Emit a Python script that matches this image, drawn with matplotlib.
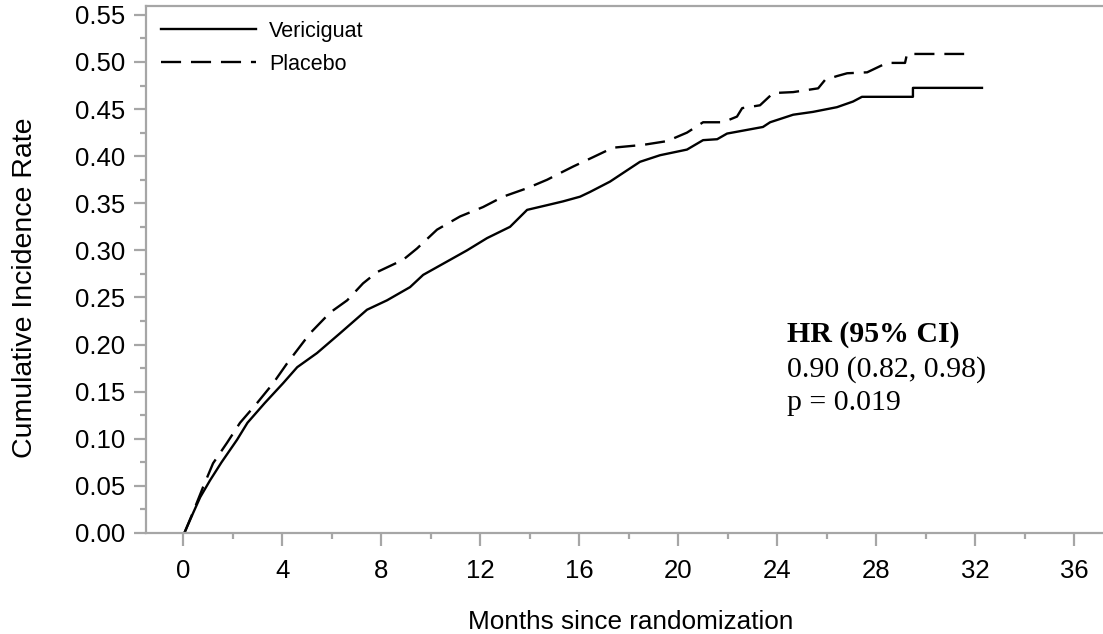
#!/usr/bin/env python3
"""Cumulative incidence curves, vericiguat vs placebo."""

import matplotlib

matplotlib.use("Agg")
import matplotlib.pyplot as plt
from matplotlib.ticker import MultipleLocator

plt.rcParams["font.family"] = ["Liberation Sans", "DejaVu Sans"]

# Curve vertices (months, cumulative incidence)
VERI_MONTHS = [0.05, 0.40, 0.69, 1.09, 1.55, 2.18, 2.60, 3.30, 4.04, 4.61, 5.41,
               6.34, 7.43, 8.24, 9.17, 9.70, 10.79, 11.47, 12.28, 13.21, 13.90,
               14.71, 15.35, 16.04, 16.44, 17.25, 17.94, 18.46, 19.27, 20.36,
               21.01, 21.58, 21.98, 23.43, 23.72, 24.65, 25.45, 26.42, 27.07,
               27.43, 29.49, 29.49, 32.28]
VERI_RATE = [0.0, 0.021, 0.038, 0.056, 0.075, 0.099, 0.117, 0.138, 0.159, 0.176,
             0.191, 0.212, 0.237, 0.247, 0.261, 0.274, 0.290, 0.300, 0.313,
             0.325, 0.343, 0.348, 0.352, 0.357, 0.362, 0.373, 0.385, 0.394,
             0.401, 0.407, 0.417, 0.418, 0.424, 0.431, 0.436, 0.444, 0.447,
             0.452, 0.458, 0.463, 0.463, 0.4725, 0.4725]

PLAC_MONTHS = [0.05, 0.40, 0.81, 1.21, 1.78, 2.30, 2.99, 3.64, 4.20, 5.13, 5.94,
               6.63, 7.27, 7.84, 8.89, 9.45, 10.26, 11.19, 12.12, 12.93, 13.90,
               14.71, 15.23, 15.76, 16.57, 17.37, 18.59, 19.56, 20.36, 21.01,
               21.82, 22.38, 22.59, 23.31, 23.84, 24.65, 25.66, 25.94, 26.42,
               26.83, 27.64, 28.04, 28.44, 29.17, 29.25, 31.56]
PLAC_RATE = [0.0, 0.022, 0.049, 0.074, 0.096, 0.117, 0.138, 0.159, 0.180, 0.212,
             0.234, 0.247, 0.265, 0.277, 0.290, 0.302, 0.322, 0.336, 0.346,
             0.357, 0.366, 0.375, 0.382, 0.389, 0.399, 0.409, 0.412, 0.416,
             0.425, 0.436, 0.436, 0.442, 0.451, 0.454, 0.467, 0.468, 0.472,
             0.481, 0.485, 0.488, 0.489, 0.494, 0.499, 0.499, 0.5085, 0.5085]

HR_LINES = ["HR (95% CI)", "0.90 (0.82, 0.98)", "p = 0.019"]

AXIS_GREY = "#a6a6a6"


def main() -> None:
    fig = plt.figure(figsize=(11.03, 6.34), dpi=100)
    ax = fig.add_axes([146 / 1103, 1 - 533 / 634, 957 / 1103, 527 / 634])

    ax.plot(VERI_MONTHS, VERI_RATE, color="black", lw=1.7, label="Vericiguat")
    ax.plot(PLAC_MONTHS, PLAC_RATE, color="black", lw=1.7, ls=(0, (8.5, 4.2)),
            label="Placebo")

    ax.set_xlim(-1.5, 37.17)
    ax.set_ylim(0, 0.5594)
    ax.xaxis.set_major_locator(MultipleLocator(4))
    ax.xaxis.set_minor_locator(MultipleLocator(2))
    ax.yaxis.set_major_locator(MultipleLocator(0.05))
    ax.yaxis.set_minor_locator(MultipleLocator(0.025))
    ax.yaxis.set_major_formatter(lambda v, _: f"{v:.2f}")

    for side in ("left", "bottom", "top"):
        ax.spines[side].set_color(AXIS_GREY)
        ax.spines[side].set_linewidth(1.6)
    ax.spines["right"].set_visible(False)
    ax.tick_params(which="both", color=AXIS_GREY, width=1.6, labelsize=18.5)
    ax.tick_params(which="major", length=9)
    ax.tick_params(which="minor", length=4)
    ax.tick_params(axis="y", pad=6)
    ax.tick_params(axis="x", pad=10)

    ax.set_xlabel("Months since randomization", fontsize=18.8)
    ax.set_ylabel("Cumulative Incidence Rate", fontsize=20.5)
    ax.xaxis.set_label_coords(0.506, -0.146)
    ax.yaxis.set_label_coords(-0.113, 0.465)

    ax.legend(loc="upper left", bbox_to_anchor=(0.016, 0.972), frameon=False,
              fontsize=15.5, handlelength=4.4, handletextpad=0.6,
              labelspacing=0.55, borderpad=0, borderaxespad=0)

    serif = ["Liberation Serif", "DejaVu Serif"]
    ax.text(24.4, 0.203, HR_LINES[0], family=serif, fontsize=21.5,
            fontweight="bold", va="baseline")
    ax.text(24.4, 0.166, HR_LINES[1], family=serif, fontsize=21.5, va="baseline")
    ax.text(24.4, 0.1306, HR_LINES[2], family=serif, fontsize=21.5, va="baseline")

    fig.savefig("out.png", dpi=100)
    plt.close(fig)


if __name__ == "__main__":
    main()
